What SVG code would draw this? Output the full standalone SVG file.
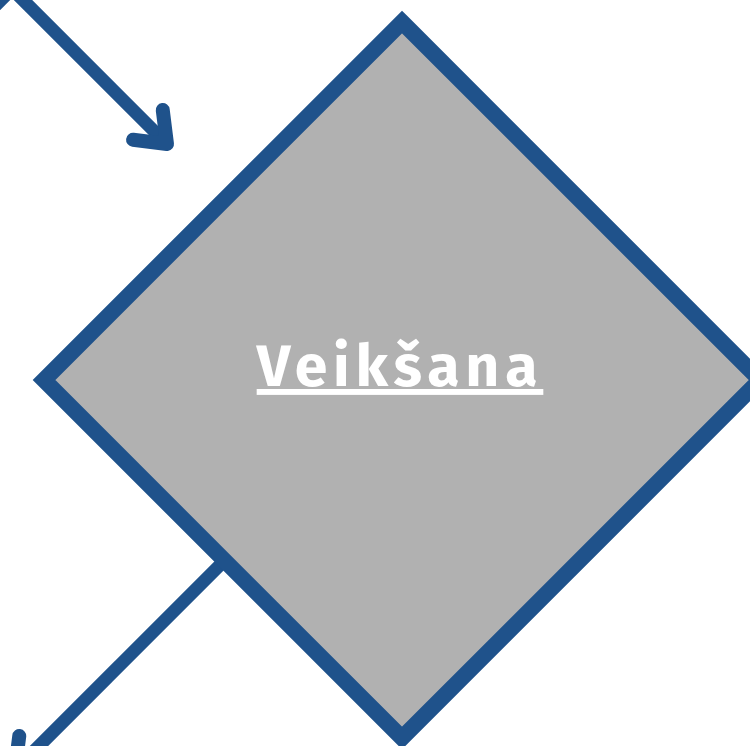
<svg xmlns="http://www.w3.org/2000/svg" width="750" height="746" viewBox="0 0 750 746">
  <defs>
    <marker id="arr" viewBox="-40 -30 50 60" refX="0" refY="0" markerWidth="50" markerHeight="60" markerUnits="userSpaceOnUse" orient="auto" overflow="visible">
      <path d="M -27 -21 L 0 0 L -27 21" fill="none" stroke="#1f528b" stroke-width="14" stroke-linecap="round" stroke-linejoin="round"/>
    </marker>
    <style>
      .conn { fill: none; stroke: #1f528b; stroke-width: 13; stroke-linejoin: round; }
      .shape { fill: #b1b1b1; stroke: #1f528b; stroke-width: 16; stroke-linejoin: miter; }
      .label { font-family: "Fira Sans", "Noto Sans", "Open Sans", sans-serif; font-weight: bold; font-size: 59px; letter-spacing: 5.8px; fill: #ffffff; text-anchor: middle; text-decoration: underline; }
    </style>
  </defs>
  <g id="connectors">
    <polyline class="conn" points="-30,31 12,-11 167,144" marker-end="url(#arr)"/>
    <line class="conn" x1="224" y1="561" x2="15" y2="770" marker-end="url(#arr)"/>
  </g>
  <g id="node-veiksana">
    <polygon class="shape" points="402,22 760,380 402,738 44,380"/>
    <text class="label" x="400" y="386">Veikšana</text>
  </g>
</svg>
